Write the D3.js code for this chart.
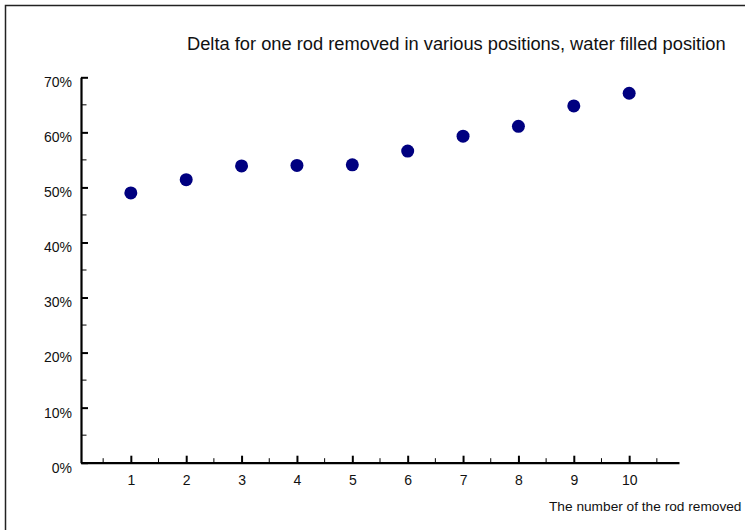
<!DOCTYPE html>
<html>
<head>
<meta charset="utf-8">
<script src="https://cdn.jsdelivr.net/npm/d3@7"></script>
<style>
  html, body { margin: 0; padding: 0; background: #fff; }
  svg { display: block; }
  text { font-family: "Liberation Sans", Arial, sans-serif; fill: #111; }
</style>
</head>
<body>
<svg id="chart" width="745" height="530"></svg>
<script>
// Rod position (1..10) and the measured delta for each removal
const rodPositions = [1, 2, 3, 4, 5, 6, 7, 8, 9, 10];
const deltaValues = [0.490, 0.514, 0.539, 0.540, 0.541, 0.566, 0.593, 0.611, 0.648, 0.671];
const yTickValues = [0, 0.1, 0.2, 0.3, 0.4, 0.5, 0.6, 0.7];
const titleText = "Delta for one rod removed in various positions, water filled position";
const xAxisLabel = "The number of the rod removed";

const svg = d3.select("#chart");

// Outer frame
svg.append("rect")
  .attr("x", 5.5).attr("y", 5.5)
  .attr("width", 800).attr("height", 600)
  .attr("fill", "none")
  .attr("stroke", "#222")
  .attr("stroke-width", 1.5);

const x = d3.scaleLinear().domain([0.1, 10.9]).range([81, 679]);
const y = d3.scaleLinear().domain([0, 0.7]).range([462.7, 77.3]);

// Minor ticks (half steps on x, 5% steps on y)
const xMinor = d3.range(0.5, 11, 1);
const yMinor = d3.range(0.05, 0.7, 0.1);

svg.append("g").selectAll("line").data(xMinor).join("line")
  .attr("x1", d => x(d)).attr("x2", d => x(d))
  .attr("y1", y(0)).attr("y2", y(0) - 4.5)
  .attr("stroke", "#000").attr("stroke-width", 1);

svg.append("g").selectAll("line").data(yMinor).join("line")
  .attr("y1", d => y(d)).attr("y2", d => y(d))
  .attr("x1", x(0.1)).attr("x2", x(0.1) + 5.5)
  .attr("stroke", "#000").attr("stroke-width", 1);

// X axis: major ticks point inward, labels below
const xAxis = d3.axisBottom(x)
  .tickValues(rodPositions)
  .tickFormat(d3.format("d"))
  .tickSizeInner(-7)
  .tickSizeOuter(0)
  .tickPadding(12);

const gx = svg.append("g")
  .attr("transform", `translate(0,${y(0)})`)
  .call(xAxis);
gx.select(".domain").attr("stroke", "#000").attr("stroke-width", 2.2);
gx.selectAll(".tick line").attr("stroke", "#000").attr("stroke-width", 2);
gx.selectAll(".tick text")
  .attr("font-size", 14).attr("font-family", "Liberation Sans, Arial, sans-serif")
  .attr("fill", "#111");

// Y axis: major ticks point inward, labels on the left
const yAxis = d3.axisLeft(y)
  .tickValues(yTickValues)
  .tickFormat(d3.format(".0%"))
  .tickSizeInner(-7)
  .tickSizeOuter(0)
  .tickPadding(9);

const gy = svg.append("g")
  .attr("transform", `translate(${x(0.1)},0)`)
  .call(yAxis);
gy.select(".domain").attr("stroke", "#000").attr("stroke-width", 2.2);
gy.selectAll(".tick line").attr("stroke", "#000").attr("stroke-width", 2);
gy.selectAll(".tick text")
  .attr("font-size", 14).attr("font-family", "Liberation Sans, Arial, sans-serif")
  .attr("fill", "#111")
  .attr("dy", "0.67em");

// Data points
svg.append("g").selectAll("circle")
  .data(rodPositions.map((p, i) => ({ p, v: deltaValues[i] })))
  .join("circle")
  .attr("cx", d => x(d.p))
  .attr("cy", d => y(d.v))
  .attr("r", 6.5)
  .attr("fill", "#000080");

// Title
svg.append("text")
  .attr("x", 187).attr("y", 49.5)
  .attr("font-size", 18.3)
  .text(titleText);

// X axis label
svg.append("text")
  .attr("x", 549).attr("y", 511)
  .attr("font-size", 13.7)
  .text(xAxisLabel);
</script>
</body>
</html>
